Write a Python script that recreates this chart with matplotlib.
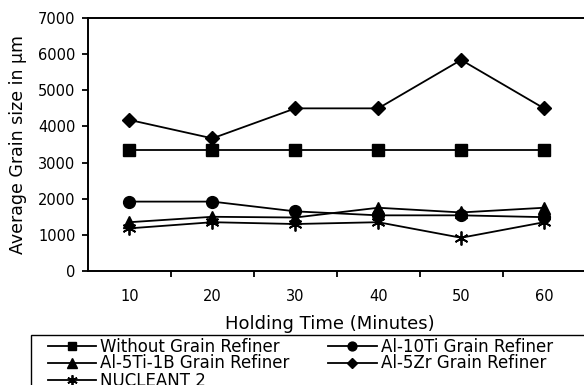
import numpy as np
import matplotlib
matplotlib.use("Agg")
import matplotlib.pyplot as plt
from matplotlib.patches import Rectangle

# holding time (minutes) and average grain size (um) per refiner
holding_time = [10, 20, 30, 40, 50, 60]
without_refiner = [3350, 3350, 3350, 3350, 3350, 3350]
al10ti = [1920, 1920, 1650, 1540, 1540, 1490]
al5ti1b = [1350, 1500, 1480, 1750, 1620, 1750]
al5zr = [4180, 3670, 4500, 4500, 5840, 4500]
nucleant2 = [1180, 1350, 1300, 1350, 920, 1350]

plt.rcParams["font.family"] = "DejaVu Sans"

fig = plt.figure(figsize=(5.84, 3.85), dpi=100)
ax = fig.add_axes([88 / 584, 1 - 271 / 385, 497.5 / 584, 253 / 385])

x = np.arange(len(holding_time))
style = dict(color="k", lw=1.3, clip_on=False)
l_without, = ax.plot(x, without_refiner, marker="s", ms=8.5, label="Without Grain Refiner", **style)
l_ti10, = ax.plot(x, al10ti, marker="o", ms=8.5, label="Al-10Ti Grain Refiner", **style)
l_tib, = ax.plot(x, al5ti1b, marker="^", ms=9, label="Al-5Ti-1B Grain Refiner", **style)
l_zr, = ax.plot(x, al5zr, marker="D", ms=7, label="Al-5Zr Grain Refiner", **style)
l_nuc, = ax.plot(x, nucleant2, marker=(6, 2, 0), ms=10, mew=1.3, label="NUCLEANT 2", **style)

ax.set_xlim(-0.5, len(holding_time) - 0.5)
ax.set_ylim(0, 7000)
ax.set_yticks(np.arange(0, 7001, 1000))
ax.set_xticks(x)
ax.set_xticklabels([str(t) for t in holding_time])
ax.set_xticks(np.arange(0.5, len(holding_time) - 0.5, 1), minor=True)
ax.tick_params(axis="x", which="major", length=0, pad=13, labelsize=10.5)
ax.tick_params(axis="x", which="minor", length=4, width=1.3, direction="out")
ax.tick_params(axis="y", length=4, width=1.3, direction="out", pad=5, labelsize=10.5)

for side in ["left", "bottom", "top"]:
    ax.spines[side].set_linewidth(1.4)
ax.spines["right"].set_visible(False)

ax.set_xlabel("Holding Time (Minutes)", fontsize=13)
ax.xaxis.set_label_coords(0.486, -0.172)
ax.set_ylabel("Average Grain size in µm", fontsize=12.5, labelpad=8)

# legend box runs off the bottom/right of the canvas
fig.patches.append(Rectangle((31 / 584, -0.1), 0.98, 1 - 335 / 385 + 0.1,
                             transform=fig.transFigure, fill=False,
                             edgecolor="k", lw=1.0))
leg = fig.legend(
    handles=[l_without, l_tib, l_nuc, l_ti10, l_zr],
    ncol=2,
    loc="upper left",
    bbox_to_anchor=(48 / 584, 1 - 337.5 / 385),
    frameon=False,
    fontsize=12,
    markerscale=0.75,
    handlelength=2.9,
    handletextpad=0.25,
    columnspacing=2.3,
    labelspacing=-0.06,
    borderpad=0,
    borderaxespad=0,
)

fig.savefig("out.png", dpi=100)
